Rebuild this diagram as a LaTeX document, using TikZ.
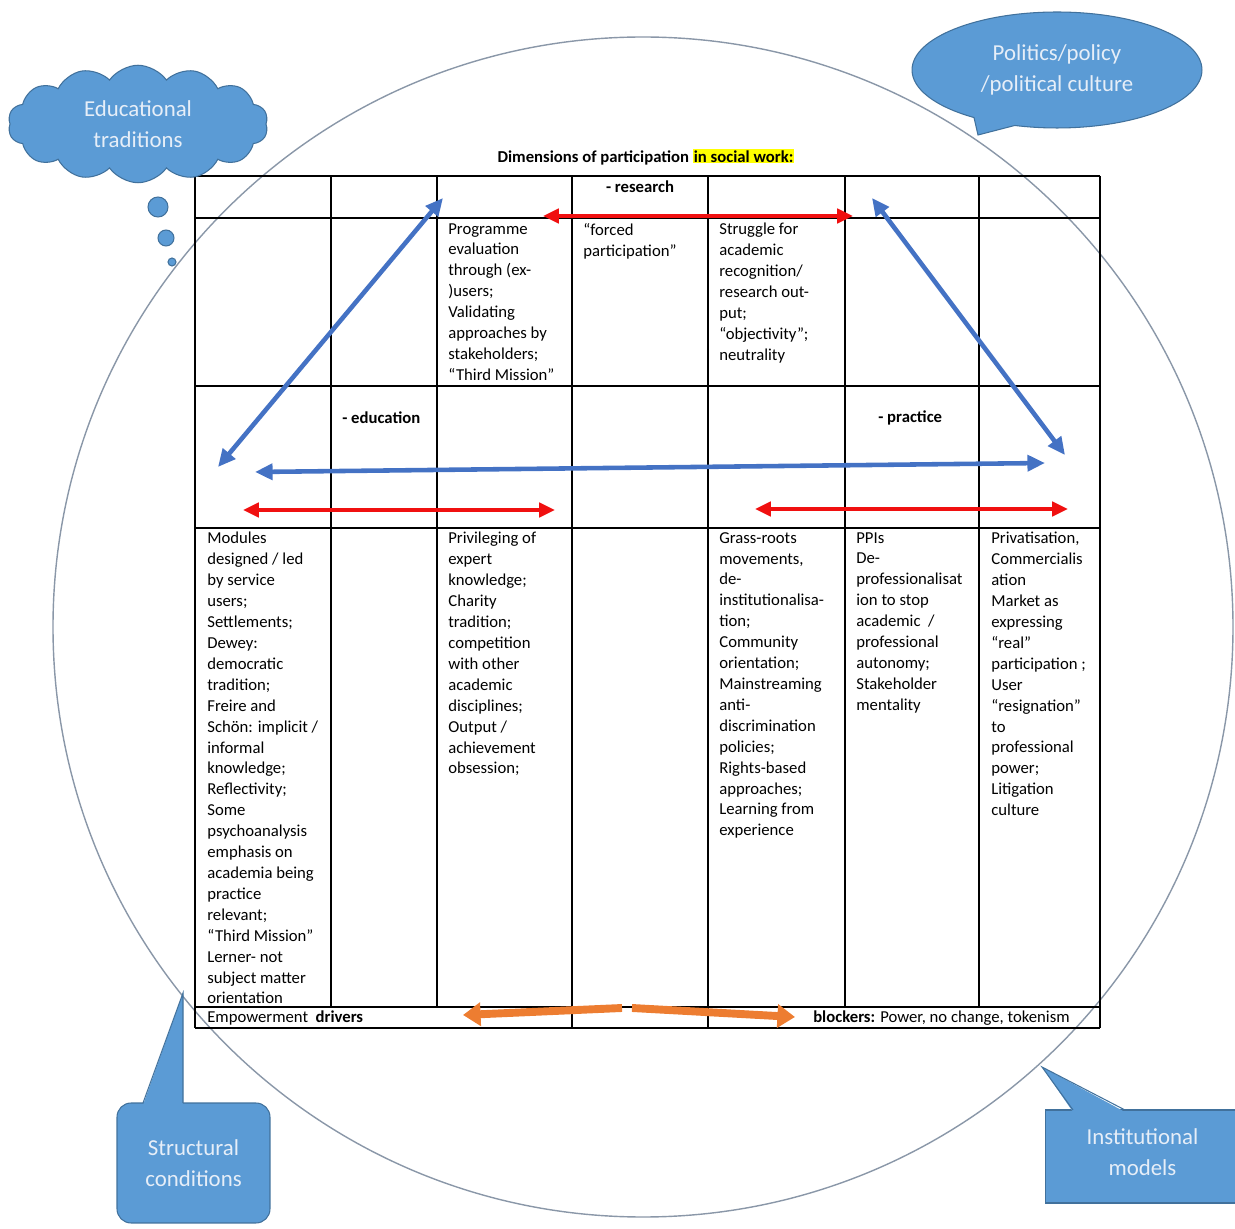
\documentclass[tikz,border=0pt]{standalone}
\usepackage{fontspec}
\setmainfont{Carlito}
\usetikzlibrary{arrows.meta, shapes.symbols, shapes.callouts}

\definecolor{arrblue}{HTML}{4472C4}
\definecolor{arrred}{HTML}{F01010}
\definecolor{arrorange}{HTML}{ED7D31}
\definecolor{callfill}{HTML}{5B9BD5}
\definecolor{callline}{HTML}{41719C}
\definecolor{calltext}{HTML}{E6EEF8}
\definecolor{ringgray}{HTML}{8A97A8}
\definecolor{marker}{HTML}{FFFF00}

\newcommand{\cellfont}{\fontsize{9.5}{11.9}\selectfont}
\newcommand{\callfont}{\fontsize{13}{17.6}\selectfont}
\setlength{\fboxsep}{0.6pt}

\begin{document}
\begin{tikzpicture}[x=0.02cm, y=-0.02cm,
        cell/.style={anchor=north west, inner sep=0pt, align=left, font=\cellfont},
        head/.style={inner sep=0pt, font=\cellfont\bfseries},
        grid/.style={draw=black, line width=0.8pt},
        ring/.style={draw=ringgray, line width=0.8pt},
        callbox/.style={fill=callfill, draw=callline, line width=0.6pt,
                text=calltext, font=\callfont, align=center, inner sep=0pt},
        bubble/.style={circle, fill=callfill, draw=callline, line width=0.6pt, inner sep=0pt},
        bluearr/.style={draw=arrblue, line width=2.6pt,
                {Triangle[length=10pt,width=9pt]}-{Triangle[length=10pt,width=9pt]}},
        redarr/.style={draw=arrred, line width=2.4pt,
                {Triangle[length=9pt,width=8pt]}-{Triangle[length=9pt,width=8pt]}},
        orangearr/.style={draw=arrorange, line width=4.5pt,
                -{Triangle[length=10pt,width=13pt]}}]

    \useasboundingbox (0,0) rectangle (1235,1229);

    % big circle round the table
    \coordinate (mid) at (643,627);
    \draw[ring] (mid) circle (590);

    % table rules
    \foreach \y in {176,218,386,528,1007,1028}
        \draw[grid] (195,\y) -- (1100,\y);
    \foreach \x in {331,437,845,979}
        \draw[grid] (\x,176) -- (\x,1007);
    \foreach \x in {195,572,708,1100}
        \draw[grid] (\x,176) -- (\x,1028);

    \node[head] (title) at (646,157) {Dimensions of participation \colorbox{marker}{in social work:}};

    \node[head] (research) at (640,187) {- research};
    \node[head, anchor=west] (education) at (342,418) {- education};
    \node[head, anchor=west] (practice) at (878,418) {- practice};

    % research row
    \node[cell] (progeval) at (448,223) {Programme\\evaluation\\through (ex-\\)users;\\Validating\\approaches by\\stakeholders;\\“Third Mission”};
    \node[cell] (forced) at (583,223) {“forced\\participation”};
    \node[cell] (struggle) at (719,223) {Struggle for\\academic\\recognition/\\research out-\\put;\\“objectivity”;\\neutrality};

    % lower row
    \node[cell] (modules) at (207,532) {Modules\\designed / led\\by service\\users;\\Settlements;\\Dewey:\\democratic\\tradition;\\Freire and\\Schön: implicit /\\informal\\knowledge;\\Reflectivity;\\Some\\psychoanalysis\\emphasis on\\academia being\\practice\\relevant;\\“Third Mission”\\Lerner- not\\subject matter\\orientation};
    \node[cell] (privileging) at (448,532) {Privileging of\\expert\\knowledge;\\Charity\\tradition;\\competition\\with other\\academic\\disciplines;\\Output /\\achievement\\obsession;};
    \node[cell] (grassroots) at (719,532) {Grass-roots\\movements,\\de-\\institutionalisa-\\tion;\\Community\\orientation;\\Mainstreaming\\anti-\\discrimination\\policies;\\Rights-based\\approaches;\\Learning from\\experience};
    \node[cell] (ppis) at (856,532) {PPIs\\De-\\professionalisat\\ion to stop\\academic\ \ /\\professional\\autonomy;\\Stakeholder\\mentality};
    \node[cell] (privat) at (991,532) {Privatisation,\\Commercialis\\ation\\Market as\\expressing\\“real”\\participation ;\\User\\“resignation”\\to\\professional\\power;\\Litigation\\culture};

    \node[cell, anchor=west] (drivers) at (207,1018) {Empowerment\ \ \textbf{drivers}};
    \node[cell, anchor=east] (blockers) at (1070,1018) {\textbf{blockers:} Power, no change, tokenism};

    % arrow ends
    \coordinate (eduLow) at (218,467);
    \coordinate (resLeft) at (443,198);
    \coordinate (resRight) at (872,198);
    \coordinate (pracLow) at (1065,455);
    \coordinate (eduMid) at (255,472);
    \coordinate (pracMid) at (1045,463);
    \coordinate (redTopL) at (543,216);
    \coordinate (redTopR) at (853,216);
    \coordinate (redEduL) at (243,510);
    \coordinate (redEduR) at (555,510);
    \coordinate (redPraL) at (755,509);
    \coordinate (redPraR) at (1068,509);
    \coordinate (orgL) at (622,1008);
    \coordinate (orgR) at (632,1008);
    \coordinate (orgLend) at (463,1015);
    \coordinate (orgRend) at (795,1017);

    \draw[bluearr] (eduLow) -- (resLeft);
    \draw[bluearr] (resRight) -- (pracLow);
    \draw[bluearr] (eduMid) -- (pracMid);
    \draw[redarr] (redTopL) -- (redTopR);
    \draw[redarr] (redEduL) -- (redEduR);
    \draw[redarr] (redPraL) -- (redPraR);
    \draw[orangearr] (orgL) -- (orgLend);
    \draw[orangearr] (orgR) -- (orgRend);

    % callouts
    \node[callbox, cloud, cloud puffs=14, cloud puff arc=110, aspect=2.3,
        minimum width=5.2cm, minimum height=2.35cm] (edutrad) at (138,124) {Educational\\traditions};
    \node[bubble, minimum size=0.4cm] (bubA) at (158,207) {};
    \node[bubble, minimum size=0.32cm] (bubB) at (166,238) {};
    \node[bubble, minimum size=0.16cm] (bubC) at (172,262) {};

    \coordinate (polTip) at (978,135);
    \node[callbox, ellipse callout, minimum width=5.8cm, minimum height=2.32cm,
        callout absolute pointer=(polTip), callout pointer arc=18] (politics) at (1057,70) {Politics/policy\\/political culture};

    \coordinate (strTip) at (183,993);
    \node[callbox, rounded corners=0.28cm, minimum width=3.06cm, minimum height=2.4cm] (structural) at (193.5,1163) {Structural\\conditions};
    \fill[callfill] (143,1105) -- (strTip) -- (183,1105) -- cycle;
    \draw[callline, line width=0.6pt] (143,1103) -- (strTip) -- (183,1103);

    \coordinate (instTip) at (1042,1067);
    \node[callbox, minimum width=3.9cm, minimum height=1.86cm] (institutional) at (1142.5,1156.5) {\raisebox{5pt}{Institutional}\\\raisebox{5pt}{models}};
    \fill[callfill] (1073,1112) -- (instTip) -- (1125,1112) -- cycle;
    \draw[callline, line width=0.6pt] (1073,1110) -- (instTip) -- (1125,1110);

\end{tikzpicture}
\end{document}
